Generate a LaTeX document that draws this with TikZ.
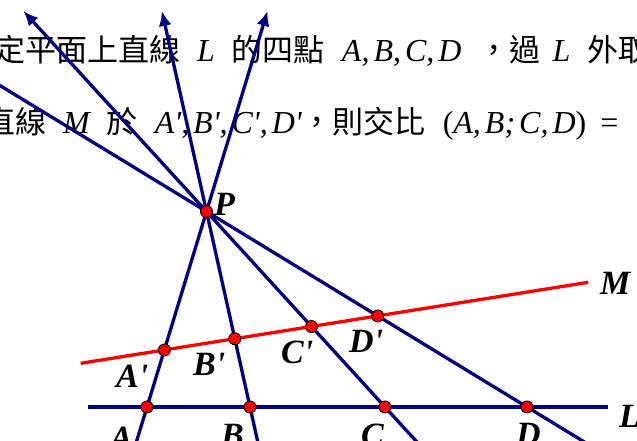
\documentclass[tikz,border=0pt]{standalone}
\usepackage{fontspec}
\setmainfont{Liberation Serif}
\newfontfamily\zhfont{Noto Sans CJK TC}
\usetikzlibrary{arrows.meta, calc}
\definecolor{navy}{RGB}{0,0,128}
\newcommand{\gap}{\hspace{17pt}}
\newcommand{\vr}[1]{{\rmfamily\fontsize{32}{32}\selectfont\itshape #1}}
\newcommand{\pr}{\textquotesingle}
\newcommand{\cm}{,\hspace{4pt}}

\begin{document}
\begin{tikzpicture}[
    x=1pt, y=-1pt,
    ray/.style={draw=navy, line width=3.3pt},
    arr/.style={ray, -{Latex[length=15pt, width=13pt]}},
    mline/.style={draw=red, line width=3.3pt},
    dot/.style={circle, draw=black, line width=0.9pt, fill=red,
                inner sep=0pt, minimum size=12pt},
    lbl/.style={font=\fontsize{34}{34}\selectfont\bfseries\itshape,
                anchor=base west, inner sep=0pt},
    txt/.style={font=\fontsize{31}{31}\selectfont\zhfont,
                anchor=base west, inner sep=0pt},
]
\useasboundingbox (0,0) rectangle (637,441);
\clip (0,0) rectangle (637,441);

% text above the figure
\node[txt] (t1) at (-6,62) {定平面上直線\gap\vr{L}\gap 的四點\gap\vr{A\cm B\cm C\cm D}\gap，過\hspace{12pt}\vr{L}\gap 外取一點};
\node[txt] (t2) at (-16,134) {直線\gap\vr{M}\gap 於\gap\vr{A\pr\cm B\pr\cm C\pr\cm D\pr}，則交比\gap{\rmfamily\fontsize{32}{32}\selectfont(\vr{A\cm B;\hspace{4pt}C\cm D})\hspace{14pt}=}};

% points
\coordinate (P) at (206.5,211.5);
\coordinate (A) at (147,407);
\coordinate (B) at (250,407);
\coordinate (C) at (385,407);
\coordinate (D) at (527,407);
\coordinate (Ls) at (88,407);
\coordinate (Le) at (608,407);
\coordinate (Ms) at (80.7,363.3);
\coordinate (Me) at (588.3,282.3);
\coordinate (Ap) at (intersection of P--A and Ms--Me);
\coordinate (Bp) at (intersection of P--B and Ms--Me);
\coordinate (Cp) at (intersection of P--C and Ms--Me);
\coordinate (Dp) at (intersection of P--D and Ms--Me);

% lines through P
\foreach \p in {A,B,C}
    \draw[arr] ($(P)!1.25!(\p)$) -- ($(\p)!2.026!(P)$);
\draw[ray] ($(P)!1.25!(D)$) -- ($(D)!1.8!(P)$);
\draw[ray] (Ls) -- (Le);
\draw[mline] (Ms) -- (Me);

\foreach \p in {P,A,B,C,D,Ap,Bp,Cp,Dp}
    \node[dot] (d\p) at (\p) {};

% labels
\node[lbl] (lP) at (214,215) {P};
\node[lbl] (lAp) at (116,387) {A\pr};
\node[lbl] (lBp) at (193,375) {B\pr};
\node[lbl] (lCp) at (281,363) {C\pr};
\node[lbl] (lDp) at (349,352) {D\pr};
\node[lbl] (lA) at (110,449) {A};
\node[lbl] (lB) at (221,446) {B};
\node[lbl] (lC) at (361,446) {C};
\node[lbl] (lD) at (516,445) {D};
\node[lbl] (lM) at (600,294) {M};
\node[lbl] (lL) at (619,427) {L};
\end{tikzpicture}
\end{document}
